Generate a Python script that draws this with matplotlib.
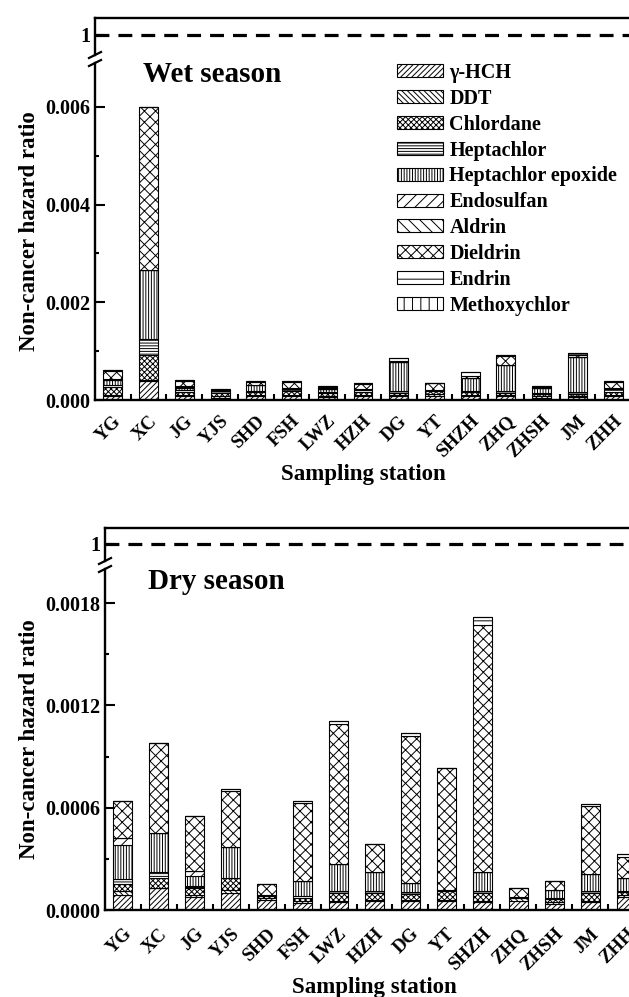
import matplotlib
matplotlib.use("Agg")
import matplotlib.pyplot as plt
import numpy as np
from matplotlib.lines import Line2D
from matplotlib.patches import Patch

plt.rcParams["font.family"] = ["Liberation Serif", "DejaVu Serif"]
plt.rcParams["font.weight"] = "bold"
plt.rcParams["axes.labelweight"] = "bold"
plt.rcParams["hatch.linewidth"] = 0.7
plt.rcParams["lines.scale_dashes"] = False

stations = ["YG", "XC", "JG", "YJS", "SHD", "FSH", "LWZ", "HZH",
            "DG", "YT", "SHZH", "ZHQ", "ZHSH", "JM", "ZHH"]
compounds = ["γ-HCH", "DDT", "Chlordane", "Heptachlor", "Heptachlor epoxide",
             "Endosulfan", "Aldrin", "Dieldrin", "Endrin", "Methoxychlor"]
hatches = ["//////", "\\" * 6, "x" * 6, "-" * 6, "|" * 6,
           "///", "\\" * 3, "xxx", "--", "||"]

# hazard ratios, units of 1e-4, one row per compound (stations in order)
wet = {
    "γ-HCH":              [0.9, 3.8, 0.8, 0.5, 0.8, 0.8, 0.7, 0.8, 0.9, 0.9, 0.8, 0.8, 0.5, 0.6, 0.8],
    "DDT":                [0.1, 0.2, 0.2, 0.3, 0.2, 0.2, 0.2, 0.2, 0.2, 0.4, 0.3, 0.3, 0.3, 0.3, 0.3],
    "Chlordane":          [1.6, 5.3, 0.6, 0.7, 0.6, 0.8, 0.5, 0.6, 0.4, 0.5, 0.5, 0.4, 0.4, 0.4, 0.6],
    "Heptachlor":         [0.5, 3.2, 0.4, 0.3, 0.3, 0.4, 0.3, 0.4, 0.3, 0.2, 0.3, 0.3, 0.3, 0.3, 0.5],
    "Heptachlor epoxide": [0.9, 14.1, 0.5, 0.2, 1.2, 0.3, 0.5, 0.3, 6.0, 0.1, 2.6, 5.4, 0.9, 7.2, 0.3],
    "Endosulfan":         [0.1, 0.0, 0.2, 0.0, 0.0, 0.0, 0.0, 0.0, 0.0, 0.0, 0.0, 0.0, 0.0, 0.0, 0.0],
    "Aldrin":             [0.1, 0.0, 0.1, 0.0, 0.0, 0.0, 0.0, 0.0, 0.0, 0.0, 0.0, 0.0, 0.0, 0.0, 0.0],
    "Dieldrin":           [1.7, 33.4, 1.1, 0.0, 0.5, 1.1, 0.3, 0.9, 0.2, 1.4, 0.5, 1.9, 0.2, 0.4, 1.1],
    "Endrin":             [0.2, 0.0, 0.2, 0.2, 0.3, 0.2, 0.3, 0.3, 0.6, 0.0, 0.8, 0.1, 0.2, 0.4, 0.3],
    "Methoxychlor":       [0.0, 0.0, 0.0, 0.0, 0.0, 0.0, 0.0, 0.0, 0.0, 0.0, 0.0, 0.0, 0.0, 0.0, 0.0],
}
dry = {
    "γ-HCH":              [0.9, 1.3, 0.75, 1.0, 0.6, 0.4, 0.45, 0.5, 0.5, 0.5, 0.45, 0.55, 0.35, 0.45, 0.75],
    "DDT":                [0.2, 0.0, 0.15, 0.2, 0.1, 0.1, 0.1, 0.1, 0.1, 0.1, 0.1, 0.15, 0.1, 0.1, 0.15],
    "Chlordane":          [0.4, 0.6, 0.4, 0.7, 0.1, 0.2, 0.45, 0.4, 0.35, 0.5, 0.45, 0.05, 0.2, 0.45, 0.15],
    "Heptachlor":         [0.3, 0.3, 0.1, 0.0, 0.1, 0.1, 0.1, 0.1, 0.1, 0.1, 0.1, 0.0, 0.05, 0.1, 0.05],
    "Heptachlor epoxide": [2.0, 2.3, 0.6, 1.8, 0.0, 0.9, 1.6, 1.1, 0.55, 0.0, 1.1, 0.0, 0.5, 1.0, 0.8],
    "Endosulfan":         [0.4, 0.0, 0.3, 0.0, 0.0, 0.0, 0.0, 0.0, 0.0, 0.0, 0.0, 0.0, 0.0, 0.0, 0.0],
    "Aldrin":             [0.0, 0.0, 0.0, 0.0, 0.0, 0.0, 0.0, 0.0, 0.0, 0.0, 0.0, 0.0, 0.0, 0.0, 0.0],
    "Dieldrin":           [2.2, 5.3, 3.2, 3.3, 0.6, 4.6, 8.2, 1.7, 8.6, 7.1, 14.5, 0.55, 0.5, 4.0, 1.2],
    "Endrin":             [0.0, 0.0, 0.0, 0.1, 0.0, 0.1, 0.2, 0.0, 0.2, 0.0, 0.5, 0.0, 0.0, 0.1, 0.2],
    "Methoxychlor":       [0.0, 0.0, 0.0, 0.0, 0.0, 0.0, 0.0, 0.0, 0.0, 0.0, 0.0, 0.0, 0.0, 0.0, 0.0],
}

wet_ticks = [0.0, 0.002, 0.004, 0.006]
wet_minor = [0.001, 0.003, 0.005]
wet_labels = ["0.000", "0.002", "0.004", "0.006"]
dry_ticks = [0.0, 0.0006, 0.0012, 0.0018]
dry_minor = [0.0003, 0.0009, 0.0015]
dry_labels = ["0.0000", "0.0006", "0.0012", "0.0018"]

W, H = 629, 997
fig = plt.figure(figsize=(W / 100, H / 100), dpi=100)


def px_axes(left, top, right, bottom):
    return fig.add_axes([left / W, 1 - bottom / H, (right - left) / W, (bottom - top) / H])


def panel(box_up, box_main, data, ymax, up_lim, ticks, minor, labels, title, title_xy, xpad):
    ax_up = px_axes(*box_up)
    ax = px_axes(*box_main)
    x = np.arange(len(stations))
    bottom = np.zeros(len(stations))
    for name, h in zip(compounds, hatches):
        vals = np.array(data[name]) * 1e-4
        ax.bar(x, vals, 0.53, bottom=bottom, facecolor="white", edgecolor="black",
               hatch=h, linewidth=0.8, label=name)
        bottom += vals
    ax.set_xlim(-0.5, 14.5)
    ax.set_ylim(0, ymax)
    ax.set_yticks(ticks)
    ax.set_yticklabels(labels)
    ax.set_yticks(minor, minor=True)
    ax.set_xticks(x)
    ax.set_xticklabels(stations, rotation=45, ha="right", rotation_mode="anchor")
    ax.set_xticks(x + 0.5, minor=True)
    ax.tick_params(axis="x", which="major", length=0, pad=xpad, labelsize=13.5)
    ax.tick_params(axis="x", which="minor", direction="in", length=4, width=1.5)
    ax.tick_params(axis="y", which="major", direction="in", length=7, width=1.5, labelsize=14.5)
    ax.tick_params(axis="y", which="minor", direction="in", length=3, width=1.5)
    ax.spines["top"].set_visible(False)
    for s in ("left", "bottom", "right"):
        ax.spines[s].set_linewidth(1.7)
    ax.set_xlabel("Sampling station", fontsize=16.5, labelpad=2)
    ax.set_ylabel("Non-cancer hazard ratio", fontsize=16.5)
    left = box_main[0]
    width = box_main[2] - box_main[0]
    ax.yaxis.set_label_coords((40 - left) / width, 0.5)
    ax.text(title_xy[0], title_xy[1], title, transform=ax.transAxes, fontsize=21, va="center")

    ax_up.set_xlim(-0.5, 14.5)
    ax_up.set_ylim(*up_lim)
    ax_up.axhline(1, color="black", lw=2.3, dashes=(10, 6.5))
    ax_up.set_yticks([1])
    ax_up.set_yticklabels(["1"])
    ax_up.set_xticks([])
    ax_up.tick_params(axis="y", direction="in", length=7, width=1.5, labelsize=14.5)
    ax_up.spines["bottom"].set_visible(False)
    for s in ("left", "top", "right"):
        ax_up.spines[s].set_linewidth(1.7)

    # break marks on the left spine
    for yb in (box_up[3], box_main[1]):
        fig.add_artist(Line2D([(left - 6) / W, (left + 6) / W],
                              [1 - (yb + 3) / H, 1 - (yb - 3) / H],
                              transform=fig.transFigure, color="black", lw=1.6))
    return ax


ax1 = panel((95, 18, 631, 55), (95, 63, 631, 400), wet, 0.0069, (0.45, 1.45),
            wet_ticks, wet_minor, wet_labels, "Wet season", (0.09, 0.965), 9)
ax2 = panel((105, 528, 644, 561), (105, 569, 644, 910), dry, 0.002, (0.47, 1.47),
            dry_ticks, dry_minor, dry_labels, "Dry season", (0.08, 0.962), 11)

handles = [Patch(facecolor="white", edgecolor="black", hatch=h, linewidth=0.8)
           for h in hatches]
fig.legend(handles, compounds, loc="upper left", bbox_to_anchor=(397 / W, 1 - 63 / H),
           frameon=False, fontsize=14.5, handlelength=2.3, handleheight=0.62,
           labelspacing=0.29, handletextpad=0.3, borderpad=0, borderaxespad=0)

fig.savefig("out.png", dpi=100)
